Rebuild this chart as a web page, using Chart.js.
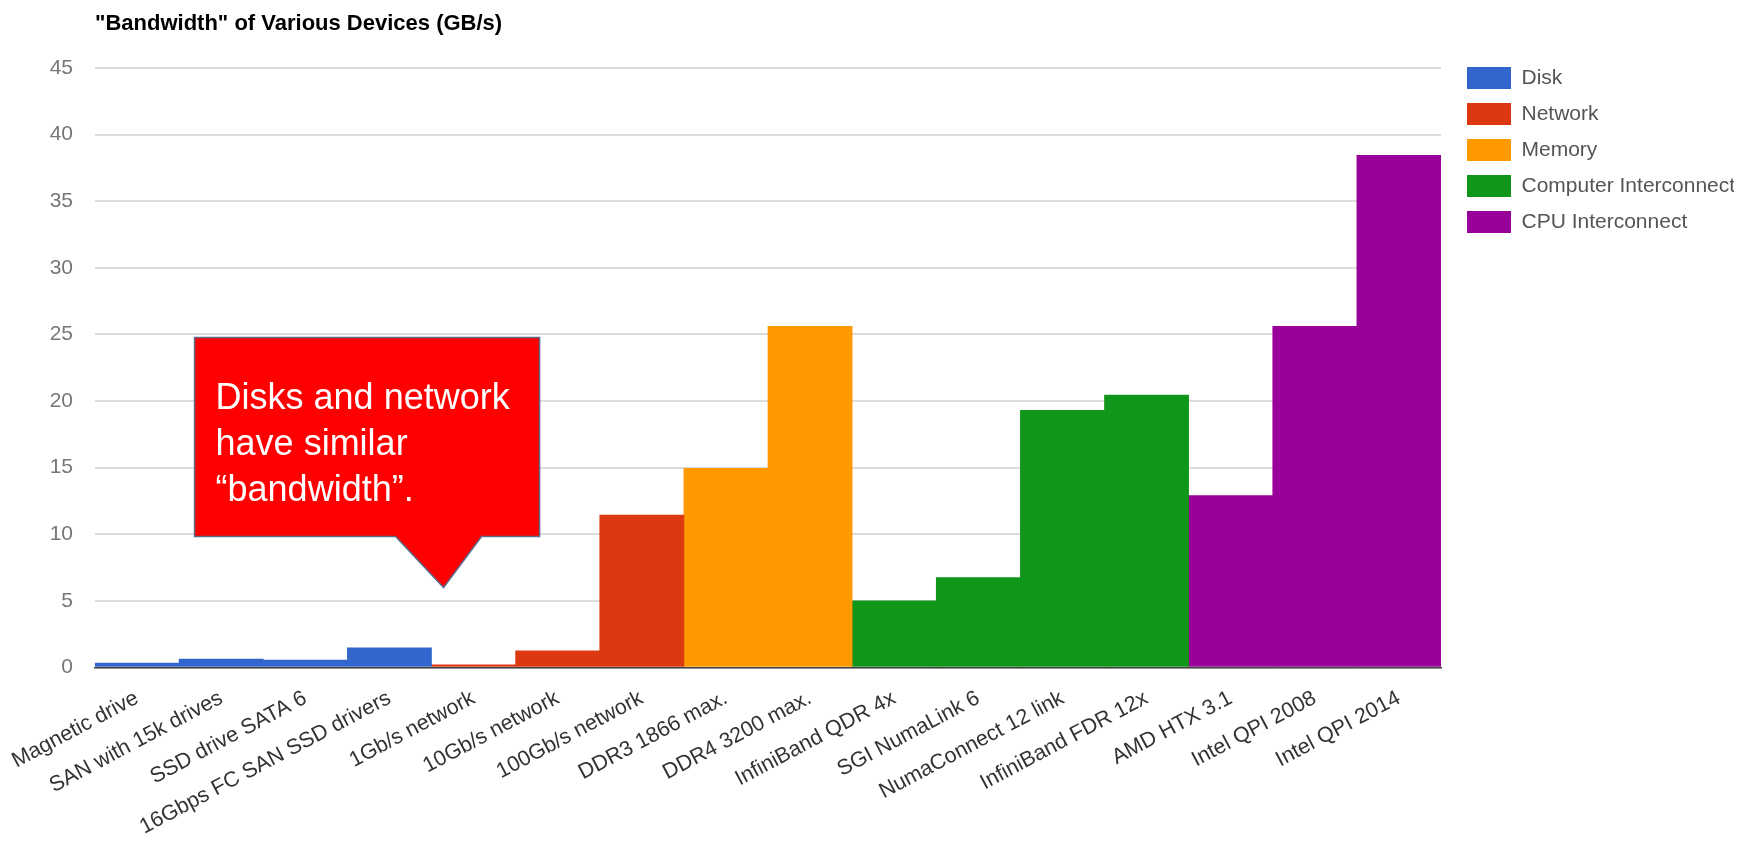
<!DOCTYPE html>
<html><head><meta charset="utf-8">
<script src="https://cdn.jsdelivr.net/npm/chart.js@4.4.1/dist/chart.umd.min.js"></script>
<style>html,body{margin:0;padding:0;background:#fff;}#wrap{width:1750px;height:842px;}</style>
</head><body><div id="wrap"><canvas id="c" width="1750" height="842"></canvas></div>
<script>
const categories = ["Magnetic drive","SAN with 15k drives","SSD drive SATA 6","16Gbps FC SAN SSD drivers","1Gb/s network","10Gb/s network","100Gb/s network","DDR3 1866 max.","DDR4 3200 max.","InfiniBand QDR 4x","SGI NumaLink 6","NumaConnect 12 link","InfiniBand FDR 12x","AMD HTX 3.1","Intel QPI 2008","Intel QPI 2014"];
const seriesNames = ["Disk","Network","Memory","Computer Interconnect","CPU Interconnect"];
const diskValues = [0.33, 0.63, 0.56, 1.47];
const networkValues = [0.2, 1.25, 11.45];
const memoryValues = [14.95, 25.6];
const computerInterconnectValues = [5.0, 6.75, 19.3, 20.45];
const cpuInterconnectValues = [12.9, 25.6, 38.45];
const yTickValues = [0, 5, 10, 15, 20, 25, 30, 35, 40, 45];
const seriesColors = ["#3366cc","#dc3912","#ff9900","#109618","#990099"];
const titleText = '"Bandwidth" of Various Devices (GB/s)';
const calloutLines = ["Disks and network", "have similar", "\u201cbandwidth\u201d."];

const F = '"Liberation Sans", Arial, sans-serif';
const allSeries = [diskValues, networkValues, memoryValues, computerInterconnectValues, cpuInterconnectValues];
let start = 0;
const datasets = allSeries.map((vals, i) => {
  const data = categories.map(() => null);
  vals.forEach((v, j) => { data[start + j] = v; });
  start += vals.length;
  return { label: seriesNames[i], data, backgroundColor: seriesColors[i], borderWidth: 0,
           barPercentage: 1, categoryPercentage: 1 };
});

const calloutPlugin = {
  id: 'callout',
  afterDraw(chart) {
    const {ctx, scales: {x, y}} = chart;
    const tipX = x.getPixelForValue(4) - 30;
    const tipY = y.getPixelForValue(6);
    const L = tipX - 249, R = tipX + 96, T = tipY - 250, B = tipY - 51;
    ctx.save();
    ctx.beginPath();
    ctx.moveTo(L, T); ctx.lineTo(R, T); ctx.lineTo(R, B);
    ctx.lineTo(tipX + 38, B); ctx.lineTo(tipX, tipY); ctx.lineTo(tipX - 48, B);
    ctx.lineTo(L, B); ctx.closePath();
    ctx.fillStyle = '#ff0000'; ctx.fill();
    ctx.lineWidth = 1.5; ctx.strokeStyle = '#5a6b8c'; ctx.stroke();
    ctx.fillStyle = '#ffffff';
    ctx.font = '36px ' + F;
    ctx.textBaseline = 'alphabetic'; ctx.textAlign = 'left';
    calloutLines.forEach((t, i) => ctx.fillText(t, L + 21, T + 71 + i * 46));
    ctx.restore();
  }
};

new Chart(document.getElementById('c'), {
  type: 'bar',
  data: { labels: categories, datasets },
  plugins: [calloutPlugin],
  options: {
    responsive: false, animation: false, events: [],
    layout: { padding: { left: 48, right: 16, top: 0, bottom: 0 } },
    plugins: {
      title: { display: true, text: titleText, align: 'start', fullSize: false, color: '#000',
               font: { family: F, size: 22, weight: 'bold' }, padding: { top: 11, bottom: 30.6 } },
      legend: { position: 'right', align: 'start', fullSize: true,
                title: { display: true, text: '', padding: { top: 41, bottom: 0 }, font: { size: 10 } },
                labels: { boxWidth: 44, boxHeight: 22, padding: 14, color: '#555', font: { family: F, size: 21 } } },
      tooltip: { enabled: false }
    },
    scales: {
      x: { stacked: true, grid: { display: false, drawTicks: false },
           afterFit: s => { s.height = 174.5; s.paddingLeft = 0; s.paddingRight = 0; },
           border: { display: true, color: '#444', width: 1.5 },
           ticks: { autoSkip: false, maxRotation: 28, minRotation: 28, padding: 18, color: '#333',
                    font: { family: F, size: 21.5 } } },
      y: { stacked: true, min: 0, max: 45,
           afterBuildTicks: s => { s.ticks = yTickValues.map(v => ({ value: v })); },
           afterFit: s => { s.width = 47; },
           grid: { color: '#dcdcdc', lineWidth: 2, drawTicks: false }, border: { display: false },
           ticks: { padding: 22, color: '#777', font: { family: F, size: 21 } } },
      yPad: { position: 'right', display: true, grid: { display: false }, border: { display: false },
              ticks: { display: false }, afterFit: s => { s.width = 12; } }
    }
  }
});
</script></body></html>
